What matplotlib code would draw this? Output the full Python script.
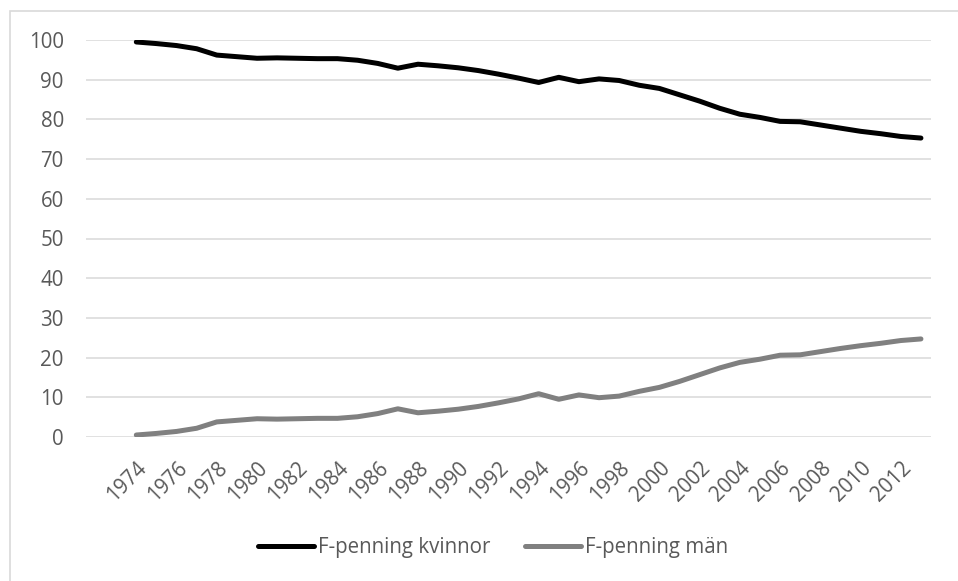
import matplotlib
matplotlib.use("Agg")
import matplotlib.pyplot as plt
from matplotlib.patches import Rectangle

years = list(range(1974, 2014))
kvinnor = [99.5, 99.1, 98.6, 97.8, 96.2, 95.8, 95.4, 95.5, 95.4, 95.3,
           95.3, 94.9, 94.1, 92.9, 93.9, 93.5, 93.0, 92.3, 91.4, 90.4,
           89.3, 90.6, 89.5, 90.2, 89.8, 88.6, 87.8, 86.2, 84.6, 82.8,
           81.3, 80.5, 79.5, 79.4, 78.6, 77.8, 77.0, 76.4, 75.7, 75.3]
man = [0.5, 0.9, 1.4, 2.2, 3.8, 4.2, 4.6, 4.5, 4.6, 4.7,
       4.7, 5.1, 5.9, 7.1, 6.1, 6.5, 7.0, 7.7, 8.6, 9.6,
       10.9, 9.5, 10.6, 9.9, 10.3, 11.5, 12.5, 14.0, 15.7, 17.4,
       18.8, 19.6, 20.6, 20.7, 21.5, 22.3, 23.0, 23.6, 24.3, 24.7]
labels = ["F-penning kvinnor", "F-penning män"]

W, H = 958, 581
fig = plt.figure(figsize=(W / 100, H / 100), dpi=100)
plt.rcParams['font.family'] = ['Open Sans', 'DejaVu Sans']

ax = fig.add_axes([86 / W, 1 - 437 / H, (931 - 86) / W, (437 - 40) / H])
x = list(range(len(years)))
ax.plot(x, kvinnor, color="#000000", lw=3.6, solid_capstyle="round",
        solid_joinstyle="round", label=labels[0], zorder=3)
ax.plot(x, man, color="#808080", lw=3.6, solid_capstyle="round",
        solid_joinstyle="round", label=labels[1], zorder=3)

ax.set_ylim(0, 100)
ax.set_xlim(-2.5, len(years) - 0.5)
ax.set_yticks(range(0, 101, 10))
ax.grid(axis="y", color="#d9d9d9", lw=1.1)
ax.set_axisbelow(True)
for s in ax.spines.values():
    s.set_visible(False)

ticks = x[::2]
ax.set_xticks(ticks)
ax.set_xticklabels([str(years[i]) for i in ticks], rotation=45, ha="right",
                   rotation_mode="anchor")
ax.tick_params(axis="x", length=0, pad=15, labelsize=14.8, labelcolor="#595959")
ax.tick_params(axis="y", length=0, pad=16, labelsize=14.8, labelcolor="#595959")

leg = ax.legend(loc="center", bbox_to_anchor=(493 / W, 1 - 548 / H),
                bbox_transform=fig.transFigure, ncol=2, frameon=False,
                fontsize=14.8, handlelength=2.7, handletextpad=0.2,
                columnspacing=1.7)
for t in leg.get_texts():
    t.set_color("#595959")

fig.patches.append(Rectangle((10 / W, -0.1), 1.2, (H - 11) / H + 0.1,
                             transform=fig.transFigure, fill=False,
                             edgecolor="#d9d9d9", lw=1.2))

fig.savefig("out.png", dpi=100, facecolor="white")
